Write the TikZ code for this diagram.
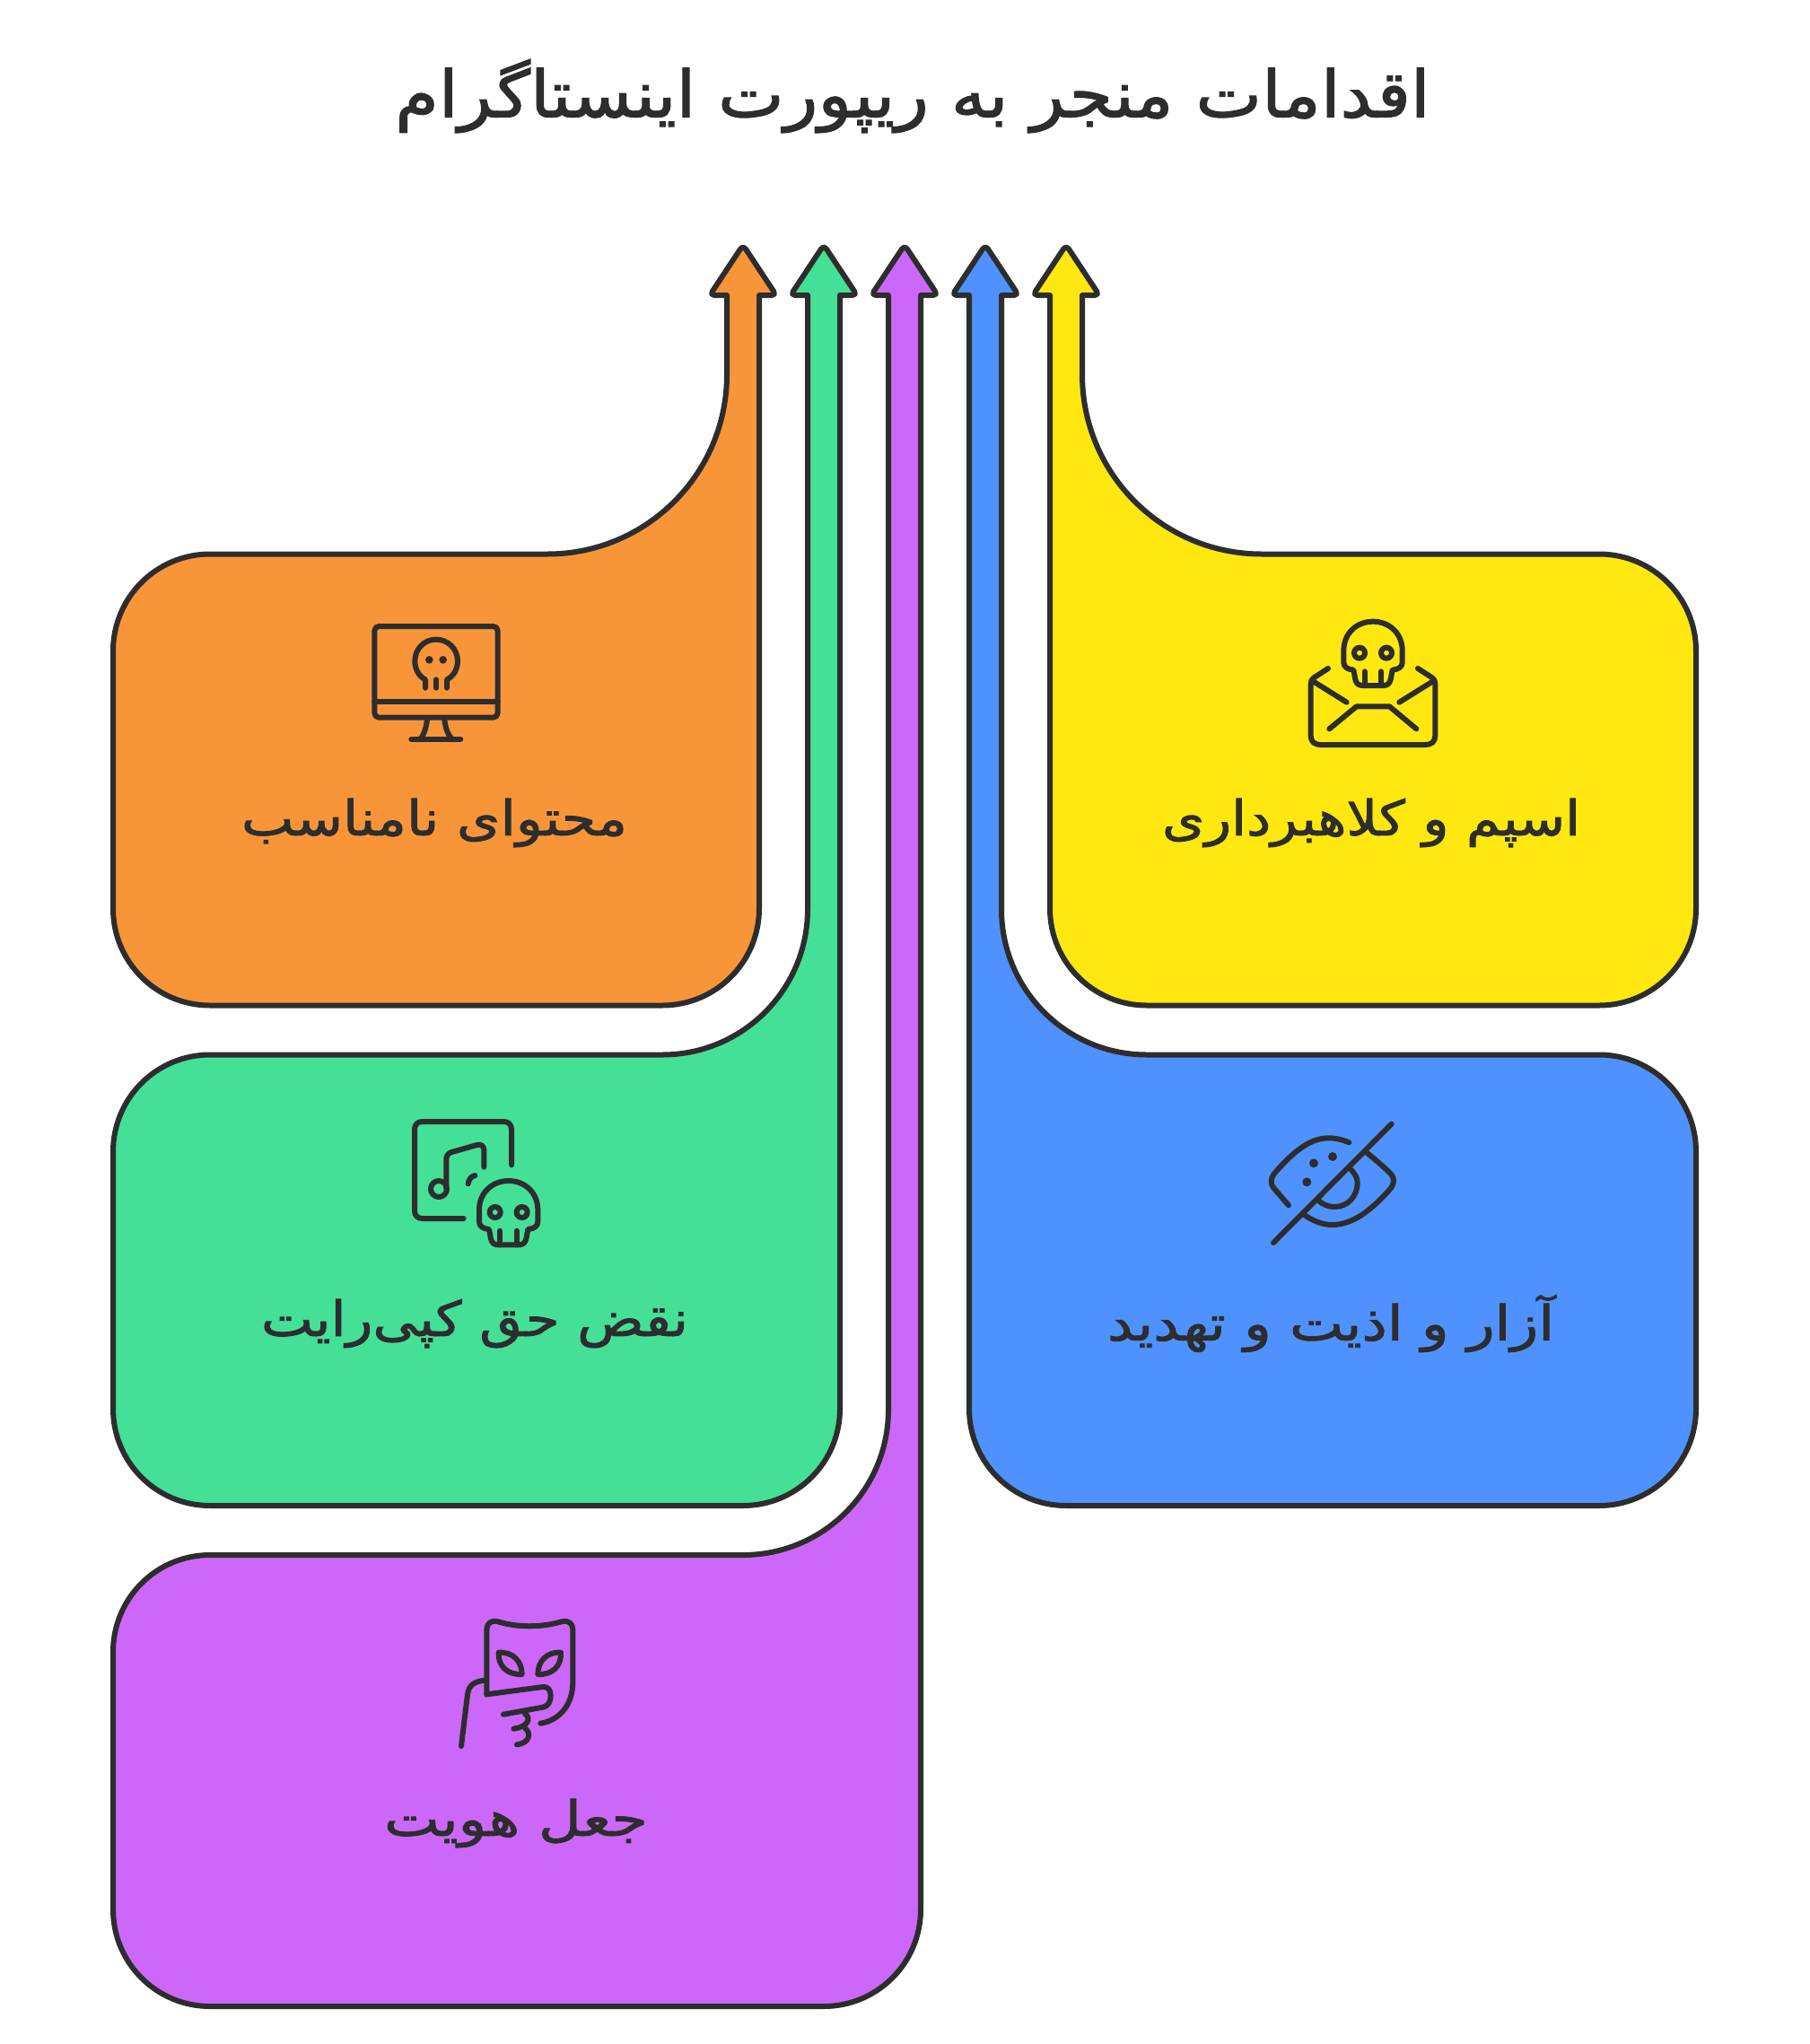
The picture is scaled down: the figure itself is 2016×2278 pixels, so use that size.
\documentclass[tikz,border=0pt]{standalone}
\usepackage{fontspec}
\usepackage{graphicx}
\newfontfamily\arabicfont[Script=Arabic,RawFeature={embolden=1.6}]{DejaVu Sans}
\TeXXeTstate=1
\definecolor{ink}{HTML}{2D2D2D}
\definecolor{cOrange}{HTML}{F99539}
\definecolor{cYellow}{HTML}{FFE80F}
\definecolor{cGreen}{HTML}{45E097}
\definecolor{cPurple}{HTML}{CC68F9}
\definecolor{cBlue}{HTML}{4F92FF}
\newcommand{\fatext}[3]{\resizebox{#1}{\height}{\fontsize{#2}{#2}\selectfont\arabicfont #3}}
\tikzset{
  band/.style={draw=ink,line width=6pt,line join=round,line cap=round},
  ico/.style={draw=ink,line width=6pt,line join=round,line cap=round},
  icodot/.style={fill=ink,draw=none},
  iconat/.style={shift={(#1)},x=0.33333pt,y=-0.33333pt},
  label/.style={text=ink,inner sep=0pt,anchor=center},
}
\newcommand{\skullicon}[1]{%
  \begin{scope}[shift={#1}]
    \draw[ico] (172,205) -- (172,165) .. controls (172,108) and (215,68) .. (270,68)
      .. controls (325,68) and (368,108) .. (368,165) -- (368,205)
      .. controls (368,220) and (355,228) .. (335,230)
      -- (329,262) .. controls (326,275) and (318,282) .. (305,282) -- (235,282)
      .. controls (222,282) and (214,275) .. (211,262) -- (205,230)
      .. controls (185,228) and (172,220) .. (172,205) -- cycle;
    \draw[ico] (242,235) -- (242,282);
    \draw[ico] (297,235) -- (297,282);
    \draw[ico] (225,173) circle (18);
    \draw[ico] (315,173) circle (18);
  \end{scope}}
\begin{document}
\begin{tikzpicture}[x=1pt,y=-1pt]
\useasboundingbox (0,0) rectangle (2016,2278);
\fill[white] (0,0) rectangle (2016,2278);

% orange
\draw[band,fill=cOrange] (846,329) [rounded corners=5pt] -- (865,329) -- (828,273) -- (791,329) [sharp corners] -- (810,329)
  [rounded corners=200pt] -- (810,617.5) [rounded corners=108pt] -- (126,617.5) -- (126,1120.5) -- (846,1120.5) [sharp corners] -- (846,329) -- cycle;
% green
\draw[band,fill=cGreen] (936,329) [rounded corners=5pt] -- (955,329) -- (918,273) -- (881,329) [sharp corners] -- (900,329)
  [rounded corners=162pt] -- (900,1175.5) [rounded corners=108pt] -- (126,1175.5) -- (126,1678) -- (936,1678) [sharp corners] -- (936,329) -- cycle;
% purple
\draw[band,fill=cPurple] (1026,329) [rounded corners=5pt] -- (1045,329) -- (1008,273) -- (971,329) [sharp corners] -- (990,329)
  [rounded corners=162pt] -- (990,1733) [rounded corners=108pt] -- (126,1733) -- (126,2236) -- (1026,2236) [sharp corners] -- (1026,329) -- cycle;
% blue
\draw[band,fill=cBlue] (1080,329) [rounded corners=5pt] -- (1061,329) -- (1098,273) -- (1135,329) [sharp corners] -- (1116,329)
  [rounded corners=162pt] -- (1116,1175.5) [rounded corners=108pt] -- (1890,1175.5) -- (1890,1678) -- (1080,1678) [sharp corners] -- (1080,329) -- cycle;
% yellow
\draw[band,fill=cYellow] (1170,329) [rounded corners=5pt] -- (1151,329) -- (1188,273) -- (1225,329) [sharp corners] -- (1206,329)
  [rounded corners=200pt] -- (1206,617.5) [rounded corners=108pt] -- (1890,617.5) -- (1890,1120.5) -- (1170,1120.5) [sharp corners] -- (1170,329) -- cycle;

% texts
\node[label] (title) at (1017,107) {\fatext{1153pt}{72}{\beginR اقدامات منجر به ریپورت اینستاگرام\endR}};
\node[label] (tOrange) at (484,917) {\fatext{430pt}{54}{\beginR محتوای نامناسب\endR}};
\node[label] (tYellow) at (1528,917) {\fatext{466pt}{54}{\beginR اسپم و کلاهبرداری\endR}};
\node[label] (tGreen) at (529,1475) {\fatext{476pt}{54}{\beginR نقض حق کپی‌رایت\endR}};
\node[label] (tBlue) at (1483,1475) {\fatext{498pt}{54}{\beginR آزار و اذیت و تهدید\endR}};
\node[label] (tPurple) at (575,2032) {\fatext{294pt}{54}{\beginR جعل هویت\endR}};

% monitor icon
\begin{scope}[iconat={390,670}]
  \draw[ico,rounded corners=5pt] (82,84) rectangle (494,389);
  \draw[ico] (82,335) -- (494,335);
  \draw[ico] (258,397) .. controls (254,425) and (248,445) .. (236,460);
  \draw[ico] (316,397) .. controls (320,425) and (326,445) .. (340,460);
  \draw[ico] (205,461) -- (370,461);
  \draw[ico] (252,290) -- (252,262) .. controls (228,250) and (217,225) .. (217,200)
    .. controls (217,160) and (248,128) .. (288,128)
    .. controls (328,128) and (360,160) .. (360,200)
    .. controls (360,225) and (348,250) .. (324,262) -- (324,290);
  \draw[ico] (288,262) -- (288,290);
  \fill[icodot] (265,196) circle (13);
  \fill[icodot] (311,196) circle (13);
\end{scope}

% envelope icon
\begin{scope}[iconat={1440,670}]
  \skullicon{(0,0)}
  \draw[ico] (120,225) -- (72,256) .. controls (65,261) and (62,268) .. (62,278) -- (62,450)
    .. controls (62,470) and (75,480) .. (95,480) -- (445,480)
    .. controls (465,480) and (478,470) .. (478,450) -- (478,278)
    .. controls (478,268) and (475,261) .. (468,256) -- (420,225);
  \draw[ico] (70,268) -- (182,338);
  \draw[ico] (470,268) -- (358,338);
  \draw[ico] (124,427) -- (215,352) -- (325,352) -- (415,427);
\end{scope}

% music icon
\begin{scope}[iconat={440,1230}]
  \draw[ico] (230,384) -- (92,384) .. controls (76,384) and (66,374) .. (66,358) -- (66,86)
    .. controls (66,70) and (76,60) .. (92,60) -- (364,60)
    .. controls (380,60) and (390,70) .. (390,86) -- (390,205);
  \draw[ico] (298,212) -- (298,155) .. controls (298,142) and (288,134) .. (275,138)
    -- (190,162) .. controls (178,166) and (172,174) .. (172,186) -- (172,285);
  \draw[ico] (147,285) circle (27);
  \draw[ico] (245,268) .. controls (247,253) and (255,243) .. (268,240);
  \skullicon{(110,190)}
\end{scope}

% eye icon
\begin{scope}[iconat={1400,1230}]
  \draw[ico] (57,465) -- (452,68);
  \draw[ico] (108,340) -- (65,290) .. controls (45,270) and (45,250) .. (65,228)
    .. controls (120,165) and (175,118) .. (235,115)
    .. controls (262,114) and (288,120) .. (310,130);
  \draw[ico] (368,163) .. controls (395,185) and (425,210) .. (450,235)
    .. controls (463,250) and (463,268) .. (445,288)
    .. controls (390,350) and (325,405) .. (255,405)
    .. controls (220,405) and (190,392) .. (160,372);
  \draw[ico] (318,222) .. controls (330,235) and (338,248) .. (338,265)
    .. controls (338,310) and (305,345) .. (262,345)
    .. controls (240,345) and (222,337) .. (205,322);
  \fill[icodot] (255,177) circle (15);
  \fill[icodot] (192,199) circle (15);
  \fill[icodot] (169,262) circle (15);
\end{scope}

% mask icon
\begin{scope}[iconat={490,1790}]
  \draw[ico] (157,295) -- (157,78) .. controls (157,58) and (172,47) .. (192,51)
    .. controls (260,72) and (340,72) .. (410,51)
    .. controls (430,47) and (445,58) .. (445,78) -- (445,255)
    .. controls (445,330) and (400,382) .. (337,392);
  \draw[ico] (157,295) -- (345,270) .. controls (362,268) and (371,282) .. (371,298)
    .. controls (371,320) and (362,335) .. (345,338) -- (213,362);
  \draw[ico] (285,360) .. controls (305,372) and (300,402) .. (247,410);
  \draw[ico] (285,408) .. controls (308,425) and (300,458) .. (258,463);
  \draw[ico] (150,248) .. controls (115,252) and (97,265) .. (93,295) -- (72,468);
  \draw[ico] (197,155) .. controls (245,152) and (275,185) .. (275,228)
    .. controls (225,230) and (195,200) .. (197,155) -- cycle;
  \draw[ico] (405,155) .. controls (357,152) and (328,185) .. (328,228)
    .. controls (378,230) and (407,200) .. (405,155) -- cycle;
\end{scope}
\end{tikzpicture}
\end{document}
